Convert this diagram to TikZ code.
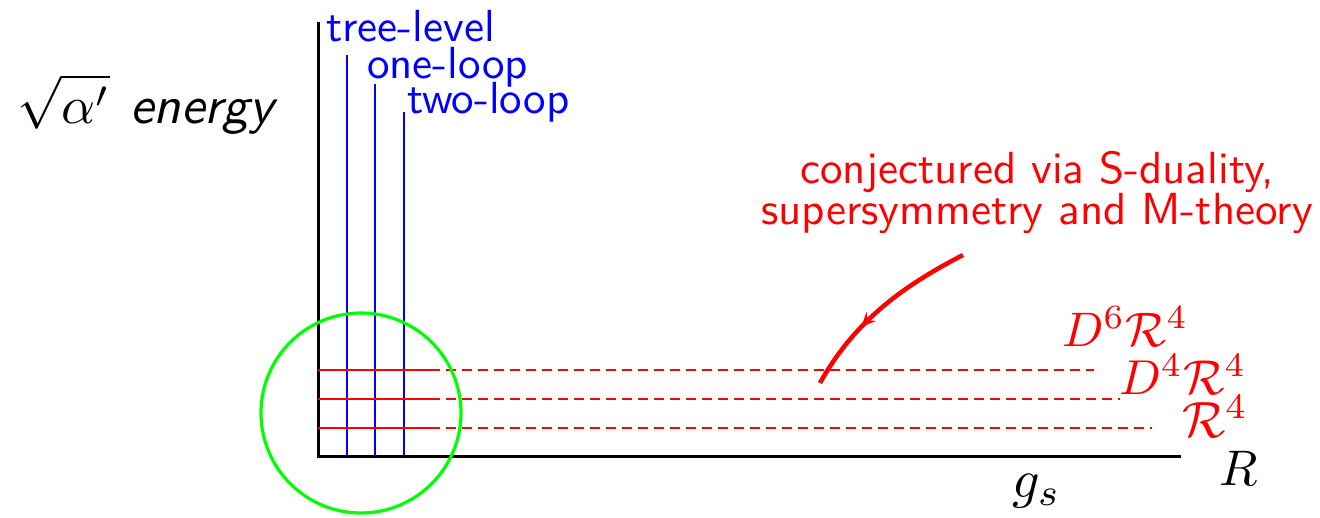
\documentclass[tikz,border=0pt]{standalone}
\usepackage{graphicx}
\usetikzlibrary{decorations.markings,arrows.meta}
\newcommand{\scl}[2]{\scalebox{#1}{#2}}
\begin{document}
\begin{tikzpicture}[x=1pt,y=-1pt,
  axis/.style={line width=3pt,black},
  loopline/.style={line width=2pt,blue},
  solidred/.style={line width=2pt,red},
  dashred/.style={line width=1.8pt,red,dash pattern=on 10pt off 6pt,dash phase=10pt},
  bluelbl/.style={text=blue,inner sep=0pt,anchor=base west},
  redlbl/.style={text=red,inner sep=0pt,anchor=base},
  mathlbl/.style={text=red,inner sep=0pt,anchor=base west},
  axlbl/.style={inner sep=0pt,anchor=base west},
  midarrow/.style={decoration={markings,mark=at position 0.64 with {\arrow{Stealth[length=14pt,width=13pt,inset=5pt]}}},postaction={decorate}}
]
\useasboundingbox (0,0) rectangle (1320,517);
% axes
\coordinate (O) at (318,456);
\coordinate (Ytop) at (318,22);
\coordinate (Xend) at (1181,456);
\draw[axis] (Ytop) -- (O) -- (Xend);
% blue lines
\coordinate (b1t) at (347,55); \coordinate (b1b) at (347,456);
\coordinate (b2t) at (375,84); \coordinate (b2b) at (375,456);
\coordinate (b3t) at (404,112); \coordinate (b3b) at (404,456);
\draw[loopline] (b1t) -- (b1b);
\draw[loopline] (b2t) -- (b2b);
\draw[loopline] (b3t) -- (b3b);
\node[bluelbl] (tree) at (326,41) {\scl{4.5}{\sffamily tree-level}};
\node[bluelbl] (one) at (367,78) {\scl{4.5}{\sffamily one-loop}};
\node[bluelbl] (two) at (407,113) {\scl{4.5}{\sffamily two-loop}};
% red lines
\coordinate (r1a) at (318,370); \coordinate (r1m) at (440,370); \coordinate (r1e) at (1094,370);
\coordinate (r2a) at (318,399); \coordinate (r2m) at (440,399); \coordinate (r2e) at (1120,399);
\coordinate (r3a) at (318,428); \coordinate (r3m) at (440,428); \coordinate (r3e) at (1152,428);
\draw[solidred] (r1a) -- (r1m);
\draw[solidred] (r2a) -- (r2m);
\draw[solidred] (r3a) -- (r3m);
\draw[dashred] (r1m) -- (r1e);
\draw[dashred] (r2m) -- (r2e);
\draw[dashred] (r3m) -- (r3e);
% green circle
\node[draw=green,line width=3.2pt,circle,minimum size=200pt,inner sep=0pt] (circ) at (361,413) {};
% labels
\node[axlbl] (alpha) at (17,123) {\scl{5.3}{$\sqrt{\alpha'}$}};
\node[axlbl] (energy) at (130,123) {\scl{5.3}{\sffamily\slshape energy}};
\node[redlbl] (conj1) at (1037,183) {\scl{4.5}{\sffamily conjectured via S-duality,}};
\node[redlbl] (conj2) at (1037,224) {\scl{4.5}{\sffamily supersymmetry and M-theory}};
\node[mathlbl] (d6) at (1062,346) {\scl{4.85}{$D^6\mathcal{R}^4$}};
\node[mathlbl] (d4) at (1119,394) {\scl{4.9}{$D^4\mathcal{R}^4$}};
\node[mathlbl] (r4) at (1182,437) {\scl{5.1}{$\mathcal{R}^4$}};
\node[axlbl] (R) at (1219,485) {\scl{5.0}{$R$}};
\node[axlbl] (gs) at (1012,497) {\scl{5.4}{$g_s$}};
% arrow
\coordinate (as) at (963,255);
\coordinate (ae) at (820,383);
\draw[red,line width=4.5pt,midarrow] (as) .. controls (905,285) and (855,320) .. (ae);
\end{tikzpicture}
\end{document}
